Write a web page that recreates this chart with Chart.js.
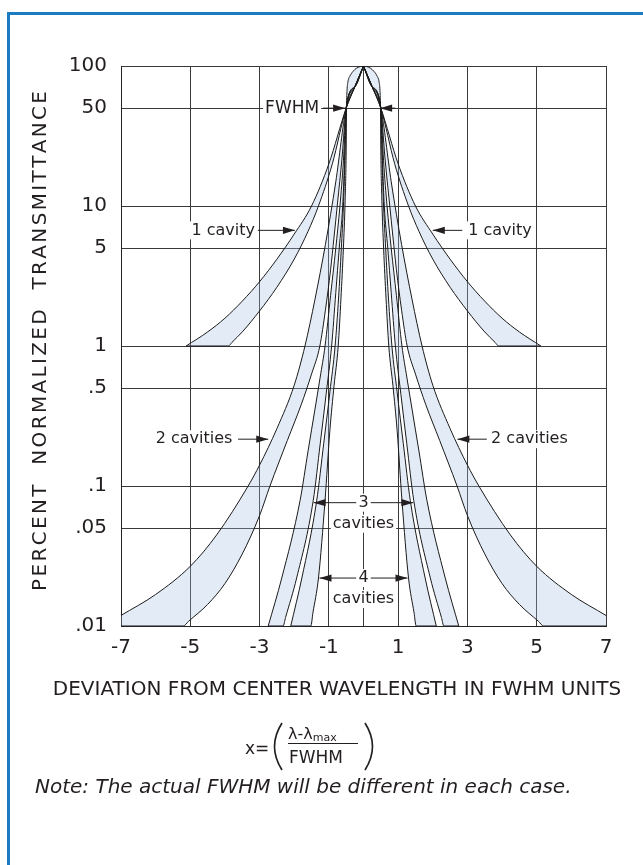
<!DOCTYPE html>
<html><head><meta charset="utf-8">
<script src="https://cdn.jsdelivr.net/npm/chart.js@4.4.0/dist/chart.umd.min.js"></script>
<style>
html,body{margin:0;padding:0;background:#fff;overflow:hidden;}
#wrap{position:relative;width:643px;height:865px;overflow:hidden;}
#frame{position:absolute;left:7px;top:12px;width:720px;height:920px;border:3px solid #1b7cc2;box-sizing:border-box;}
#c{position:absolute;left:0;top:0;}
</style></head><body>
<div id="wrap"><div id="frame"></div><canvas id="c" width="643" height="865"></canvas></div>
<script>
// ---- axis ticks ----
const xTickValues = [-7, -5, -3, -1, 0, 1, 3, 5, 7];
const xTickLabels = ['-7', '-5', '-3', '-1', '', '1', '3', '5', '7'];
const yTickValues = [0.01, 0.05, 0.1, 0.5, 1, 5, 10, 50, 100];
const yTickLabels = ['.01', '.05', '.1', '.5', '1', '5', '10', '50', '100'];

// ---- band boundaries, left half (x <= 0); the figure is symmetric about x = 0 ----
const oneCavityOuterX = [-5.12, -4.5, -4.0, -3.5, -3.0, -2.5, -2.0, -1.5, -1.0, -0.5, -0.25, 0];
const oneCavityOuterY = [1, 1.26, 1.58, 2.09, 2.88, 4.17, 6.3, 10, 20, 50, 71, 100];
const oneCavityInnerX = [-3.9, -3.8, -3.5, -3.0, -2.5, -2.0, -1.6, -1.3, -0.9, -0.5, -0.25, 0];
const oneCavityInnerY = [1, 1.06, 1.26, 1.78, 2.63, 4.17, 6.6, 10, 20, 50, 71, 100];

const twoCavityOuterX = [-7, -6, -5, -4.24, -3.33, -3.0, -2.5, -2.0, -1.69, -1.4, -1.1, -0.8, -0.5, -0.25, 0];
const twoCavityOuterY = [0.0119, 0.0168, 0.0267, 0.0447, 0.1, 0.141, 0.257, 0.525, 1, 2.16, 5.3, 14.9, 50, 71, 100];
const twoCavityInnerX = [-5.2, -5.05, -4.5, -4.0, -3.5, -3.0, -2.7, -2.2, -1.8, -1.5, -1.26, -1.1, -0.95, -0.85, -0.75, -0.62, -0.5, -0.25, 0];
const twoCavityInnerY = [0.01, 0.0108, 0.01426, 0.0201, 0.0327, 0.0615, 0.1, 0.211, 0.38, 0.63, 1, 1.8, 3.5, 6, 10.5, 22, 50, 71, 100];

const threeCavityOuterX = [-2.75, -2.36, -1.83, -1.6, -1.4, -1.25, -1.11, -0.95, -0.8, -0.68, -0.58, -0.5, -0.25, 0];
const threeCavityOuterY = [0.01, 0.022, 0.079, 0.178, 0.355, 0.6, 1, 2.3, 5, 10, 21, 50, 71, 100];
const threeCavityInnerX = [-2.32, -2.25, -1.93, -1.45, -1.25, -1.08, -0.92, -0.8, -0.7, -0.6, -0.55, -0.5, -0.25, 0];
const threeCavityInnerY = [0.01, 0.0115, 0.022, 0.079, 0.2, 0.45, 1, 2.4, 5, 10, 20, 50, 71, 100];

const fourCavityOuterX = [-2.10, -1.78, -1.35, -1.15, -0.97, -0.82, -0.72, -0.64, -0.58, -0.54, -0.5, -0.25, 0];
const fourCavityOuterY = [0.01, 0.022, 0.079, 0.2, 0.47, 1, 2.2, 5, 10, 20, 50, 71, 100];
const fourCavityInnerX = [-1.52, -1.46, -1.30, -1.11, -0.97, -0.85, -0.73, -0.65, -0.58, -0.53, -0.5, -0.49, -0.475, -0.45, -0.39, -0.3, -0.2, -0.1, 0];
const fourCavityInnerY = [0.01, 0.0124, 0.022, 0.079, 0.25, 0.52, 1, 2.2, 5, 11, 25, 50, 67, 77, 85, 91.6, 96.5, 99, 100];

// lowest transmittance each band is drawn down to
const bandFloors = [1, 0.01, 0.01, 0.01];

// ---- text ----
const labelTexts = ['FWHM', '1 cavity', '2 cavities', '3', '4', 'cavities'];
const xTitle = 'DEVIATION FROM CENTER WAVELENGTH IN FWHM UNITS';
const yTitle = 'PERCENT  NORMALIZED  TRANSMITTANCE';
const noteText = 'Note: The actual FWHM will be different in each case.';

const yMin = 0.01, yMax = 100, xMin = -7, xMax = 7;

function sideCurve(xs, ys, sign) {
  const p = xs.map((x, i) => ({x: sign * x, y: ys[i]}));
  return sign < 0 ? p : p.reverse();
}
const bandDefs = [
  [oneCavityOuterX, oneCavityOuterY, oneCavityInnerX, oneCavityInnerY],
  [twoCavityOuterX, twoCavityOuterY, twoCavityInnerX, twoCavityInnerY],
  [threeCavityOuterX, threeCavityOuterY, threeCavityInnerX, threeCavityInnerY],
  [fourCavityOuterX, fourCavityOuterY, fourCavityInnerX, fourCavityInnerY]
];
const FILL = 'rgba(160,188,226,0.3)';
const datasets = [];
bandDefs.forEach((d, k) => {
  [-1, 1].forEach(s => {
    // inner boundary continues along the band's floor to the outer boundary's start
    const inX = [d[0][0]].concat(d[2]);
    const inY = [bandFloors[k]].concat(d[3]);
    const common = {cubicInterpolationMode: 'monotone', borderColor: '#1a1a1a', borderWidth: 1, pointRadius: 0, backgroundColor: FILL};
    datasets.push(Object.assign({data: sideCurve(d[0], d[1], s), fill: '+1'}, common));
    datasets.push(Object.assign({data: sideCurve(inX, inY, s), fill: false}, common));
  });
});

const FONT = '"DejaVu Sans", "Open Sans", sans-serif';
const TXT = '#231f20';

const annotations = [
  {text: labelTexts[0], size: 17, x: -2.06, y: 50, arrows: [[-1.17, -0.53], [0.92, 0.48]]},
  {text: labelTexts[1], x: -4.05, y: 6.7, arrows: [[-3.05, -1.98]]},
  {text: labelTexts[1], x: 3.94, y: 6.7, arrows: [[2.85, 2.0]]},
  {text: labelTexts[2], x: -4.89, y: 0.216, arrows: [[-3.62, -2.75]]},
  {text: labelTexts[2], x: 4.79, y: 0.216, arrows: [[3.56, 2.71]]},
  {text: labelTexts[3], sub: labelTexts[5], x: 0, y: 0.076, arrows: [[-0.2, -1.44], [0.2, 1.44]]},
  {text: labelTexts[4], sub: labelTexts[5], x: 0, y: 0.022, arrows: [[-0.2, -1.27], [0.2, 1.27]]}
];

function arrow(ctx, x1, x2, y) {
  ctx.beginPath(); ctx.moveTo(x1, y); ctx.lineTo(x2, y); ctx.stroke();
  const d = x2 > x1 ? 1 : -1;
  ctx.beginPath(); ctx.moveTo(x2, y); ctx.lineTo(x2 - d * 12, y - 3.6); ctx.lineTo(x2 - d * 12, y + 3.6); ctx.closePath(); ctx.fill();
}
function boxText(ctx, t, cx, cy) {
  const w = ctx.measureText(t).width;
  ctx.fillStyle = '#fff'; ctx.fillRect(cx - w / 2 - 2, cy - 9, w + 4, 18);
  ctx.fillStyle = TXT; ctx.fillText(t, cx, cy);
}
// text with extra tracking, centred on (0,0) of the current transform
function trackedText(ctx, t, total) {
  const ws = [...t].map(c => ctx.measureText(c).width);
  const sum = ws.reduce((a, b) => a + b, 0);
  const ls = (total - sum) / (t.length - 1);
  let x = -total / 2;
  [...t].forEach((c, i) => { ctx.fillText(c, x, 0); x += ws[i] + ls; });
}

const annotPlugin = {
  id: 'annot',
  afterDatasetsDraw(chart) {
    const ctx = chart.ctx, xs = chart.scales.x, ys = chart.scales.y;
    ctx.save();
    ctx.textAlign = 'center'; ctx.textBaseline = 'middle';
    ctx.strokeStyle = TXT; ctx.lineWidth = 1;
    annotations.forEach(a => {
      ctx.font = (a.size || 16) + 'px ' + FONT;
      const py = ys.getPixelForValue(a.y);
      a.arrows.forEach(ar => { ctx.fillStyle = TXT; arrow(ctx, xs.getPixelForValue(ar[0]), xs.getPixelForValue(ar[1]), py); });
      boxText(ctx, a.text, xs.getPixelForValue(a.x), py);
      if (a.sub) boxText(ctx, a.sub, xs.getPixelForValue(a.x), py + 21);
    });
    ctx.restore();
  },
  afterDraw(chart) {
    const ctx = chart.ctx;
    ctx.save();
    ctx.fillStyle = TXT; ctx.strokeStyle = TXT;
    // axis titles
    ctx.font = '20px ' + FONT; ctx.textAlign = 'center'; ctx.textBaseline = 'middle';
    ctx.fillText(xTitle, 337, 690);
    ctx.save(); ctx.translate(41, 341); ctx.rotate(-Math.PI / 2);
    ctx.textAlign = 'left'; trackedText(ctx, yTitle, 500); ctx.restore();
    // formula x = ( (λ-λmax) / FWHM )
    ctx.textAlign = 'left'; ctx.textBaseline = 'alphabetic';
    ctx.font = '17px ' + FONT; ctx.fillText('x=', 245, 754);
    ctx.lineWidth = 1.7;
    ctx.beginPath(); ctx.moveTo(282, 723); ctx.quadraticCurveTo(267, 746.5, 282, 770); ctx.stroke();
    ctx.beginPath(); ctx.moveTo(365, 723); ctx.quadraticCurveTo(380, 746.5, 365, 770); ctx.stroke();
    ctx.font = '16px ' + FONT; ctx.fillText('λ-λ', 288, 739);
    const w = ctx.measureText('λ-λ').width;
    ctx.font = '11px ' + FONT; ctx.fillText('max', 288 + w, 741);
    ctx.fillRect(288, 743, 70, 1);
    ctx.font = '17px ' + FONT; ctx.fillText('FWHM', 289, 763);
    ctx.font = 'italic 20px ' + FONT;
    ctx.fillText(noteText, 35, 793);
    ctx.restore();
  }
};

new Chart(document.getElementById('c'), {
  type: 'line',
  data: {datasets},
  options: {
    responsive: false, animation: false,
    layout: {padding: {left: 0, top: 66, right: 37, bottom: 0}},
    plugins: {legend: {display: false}, tooltip: {enabled: false}, filler: {drawTime: 'beforeDatasetsDraw'}},
    scales: {
      x: {
        type: 'linear', min: xMin, max: xMax,
        afterBuildTicks: s => { s.ticks = xTickValues.map(v => ({value: v})); },
        afterFit: s => { s.height = 239; },
        ticks: {callback: (v, i) => xTickLabels[i], font: {family: FONT, size: 20}, color: TXT, padding: 10, maxRotation: 0, autoSkip: false},
        grid: {color: '#3a3a3a', lineWidth: 1, drawTicks: false},
        border: {color: '#222', width: 1}
      },
      y: {
        type: 'logarithmic', min: yMin, max: yMax,
        afterBuildTicks: s => { s.ticks = yTickValues.map(v => ({value: v})); },
        afterFit: s => { s.width = 121; },
        ticks: {callback: (v, i) => yTickLabels[i], font: {family: FONT, size: 20}, color: TXT, padding: 14, autoSkip: false},
        grid: {color: '#3a3a3a', lineWidth: 1, drawTicks: false},
        border: {color: '#222', width: 1}
      }
    }
  },
  plugins: [annotPlugin]
});
</script>
</body></html>
